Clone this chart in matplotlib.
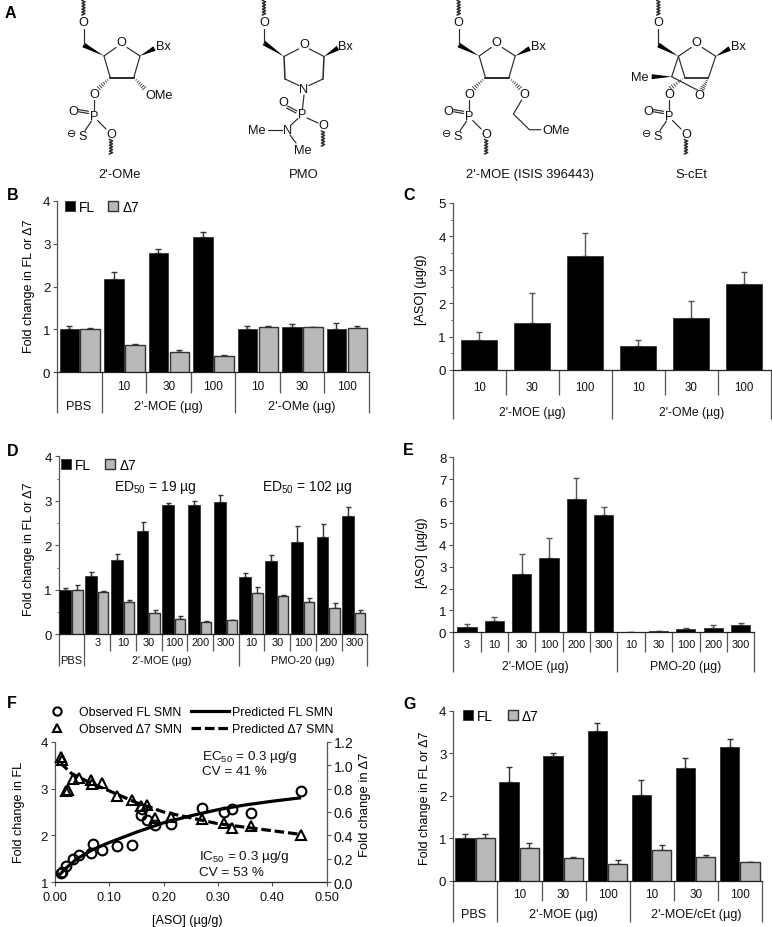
import numpy as np
import matplotlib
matplotlib.use("Agg")
import matplotlib.pyplot as plt
from matplotlib.patches import Polygon

plt.rcParams['font.family'] = ['Liberation Sans', 'DejaVu Sans']
plt.rcParams['mathtext.fontset'] = 'custom'
plt.rcParams['mathtext.rm'] = 'Liberation Sans'
plt.rcParams['mathtext.default'] = 'regular'

# ---------- data ----------
b_doses = ['10', '30', '100', '10', '30', '100']
b_fl = [1.0, 2.17, 2.78, 3.15, 1.02, 1.06, 1.01]
b_fl_top = [1.09, 2.33, 2.87, 3.26, 1.09, 1.12, 1.16]
b_d7 = [1.0, 0.63, 0.47, 0.38, 1.05, 1.05, 1.04]
b_d7_top = [1.03, 0.67, 0.51, 0.41, 1.08, 1.06, 1.09]

c_doses = ['10', '30', '100', '10', '30', '100']
c_val = [0.91, 1.42, 3.42, 0.71, 1.55, 2.57]
c_top = [1.13, 2.30, 4.10, 0.90, 2.06, 2.92]

d_doses = ['3', '10', '30', '100', '200', '300', '10', '30', '100', '200', '300']
d_fl = [1.0, 1.3, 1.67, 2.33, 2.9, 2.9, 2.98, 1.28, 1.64, 2.07, 2.19, 2.65]
d_fl_top = [1.04, 1.41, 1.81, 2.53, 2.95, 3.0, 3.12, 1.37, 1.78, 2.43, 2.47, 2.85]
d_d7 = [1.0, 0.96, 0.73, 0.48, 0.35, 0.28, 0.32, 0.92, 0.87, 0.72, 0.59, 0.48]
d_d7_top = [1.11, 0.98, 0.78, 0.54, 0.41, 0.30, 0.33, 1.07, 0.89, 0.82, 0.70, 0.54]

e_doses = ['3', '10', '30', '100', '200', '300', '10', '30', '100', '200', '300']
e_val = [0.24, 0.53, 2.65, 3.38, 6.1, 5.37, 0.02, 0.05, 0.13, 0.21, 0.33]
e_top = [0.37, 0.68, 3.6, 4.32, 7.05, 5.72, 0.03, 0.07, 0.18, 0.33, 0.42]

f_fl_x = [0.011, 0.013, 0.020, 0.034, 0.044, 0.066, 0.070, 0.087, 0.115, 0.142,
          0.158, 0.160, 0.169, 0.184, 0.213, 0.270, 0.311, 0.326, 0.360, 0.452]
f_fl_y = [1.20, 1.22, 1.34, 1.50, 1.59, 1.62, 1.82, 1.68, 1.77, 1.80,
          2.44, 2.56, 2.33, 2.23, 2.24, 2.58, 2.51, 2.57, 2.48, 2.95]
f_d7_x = [0.011, 0.012, 0.020, 0.024, 0.034, 0.044, 0.066, 0.069, 0.087, 0.115,
          0.142, 0.158, 0.169, 0.184, 0.213, 0.270, 0.311, 0.326, 0.360, 0.452]
f_d7_y = [1.066, 1.04, 0.78, 0.79, 0.88, 0.89, 0.87, 0.84, 0.85, 0.74,
          0.70, 0.65, 0.66, 0.55, 0.56, 0.54, 0.51, 0.46, 0.48, 0.40]
f_pf_x = [0.01, 0.02, 0.04, 0.07, 0.10, 0.15, 0.20, 0.25, 0.30, 0.35, 0.40, 0.45]
f_pf_y = [1.18, 1.30, 1.50, 1.70, 1.85, 2.07, 2.27, 2.42, 2.55, 2.65, 2.73, 2.80]
f_pd_x = [0.01, 0.03, 0.06, 0.10, 0.15, 0.20, 0.25, 0.30, 0.35, 0.40, 0.45]
f_pd_y = [1.02, 0.93, 0.86, 0.78, 0.68, 0.60, 0.55, 0.50, 0.47, 0.44, 0.41]

g_doses = ['10', '30', '100', '10', '30', '100']
g_fl = [1.0, 2.33, 2.93, 3.53, 2.03, 2.65, 3.15]
g_fl_top = [1.11, 2.68, 3.01, 3.72, 2.37, 2.89, 3.33]
g_d7 = [1.0, 0.78, 0.53, 0.40, 0.73, 0.57, 0.44]
g_d7_top = [1.11, 0.88, 0.57, 0.49, 0.84, 0.61, 0.45]

# ---------- layout ----------
W, H = 772, 928
fig = plt.figure(figsize=(W / 100, H / 100), dpi=100)
GREY = '#b9b9b9'
DARK = '#333333'
AX = '#555555'
FS = 9.1


def make_ax(l, r, t, b):
    a = fig.add_axes([l / W, 1 - b / H, (r - l) / W, (b - t) / H])
    a.patch.set_alpha(0)
    for s in ('top', 'right'):
        a.spines[s].set_visible(False)
    for s in ('left', 'bottom'):
        a.spines[s].set_color(AX)
        a.spines[s].set_linewidth(0.9)
    a.spines['bottom'].set_color('#222222')
    a.tick_params(axis='y', length=3, width=0.8, color=AX, labelsize=9.5, pad=2, labelcolor='#111111')
    a.tick_params(axis='y', which='minor', length=1.8, width=0.7, color=AX)
    return a


def hierarchy(a, n, start, shorts, longs, short_px, long_px, doses, groups, dose_y, group_y, fs=8.5, gfs=9.1):
    h = a.get_window_extent().height
    tr = a.get_xaxis_transform()
    for x in shorts:
        a.plot([x, x], [0, -short_px / h], transform=tr, clip_on=False, color=AX, lw=0.9, solid_capstyle='butt')
    for x in longs:
        a.plot([x, x], [0, -long_px / h], transform=tr, clip_on=False, color=AX, lw=0.9, solid_capstyle='butt')
    a.set_xlim(0, n)
    a.set_xticks(np.arange(start, n) + 0.5, doses)
    a.tick_params(axis='x', length=0, labelsize=fs, pad=(dose_y - 5.5) * 0.72, labelcolor='#111111')
    for lab, xc in groups:
        a.text(xc, -group_y / h, lab, transform=tr, ha='center', va='center', fontsize=gfs, color='#111111')


def grouped(a, x0, fl, fl_top, d7, d7_top, c1, c2, w1, w2, lw=1.0, cap=1.9):
    xs = np.arange(len(fl))
    r1 = a.bar(xs + c1, fl, w1, color='black', edgecolor=DARK, lw=0.6, zorder=3, label='FL')
    r2 = a.bar(xs + c2, d7, w2, color=GREY, edgecolor=DARK, lw=1.0, zorder=3, label='Δ7')
    a.errorbar(xs + c1, fl, yerr=[np.zeros(len(fl)), np.array(fl_top) - fl], fmt='none', ecolor=DARK,
               elinewidth=lw, capsize=cap, capthick=lw, zorder=2)
    a.errorbar(xs + c2, d7, yerr=[np.zeros(len(d7)), np.array(d7_top) - d7], fmt='none', ecolor=DARK,
               elinewidth=lw, capsize=cap, capthick=lw, zorder=2)
    return r1, r2


def bar_legend(a, x, y, fs, colsp):
    bb = a.get_window_extent()
    a.legend(loc='center left', bbox_to_anchor=((x - bb.x0) / bb.width, ((H - y) - bb.y0) / bb.height),
             ncol=2, frameon=False, fontsize=fs, handlelength=0.75, handleheight=0.75, handletextpad=0.3,
             columnspacing=colsp, borderpad=0, borderaxespad=0)


def single(a, vals, tops, w, cap=1.9):
    xs = np.arange(len(vals)) + 0.5
    a.bar(xs, vals, w, color='black', edgecolor=DARK, lw=0.6, zorder=3)
    a.errorbar(xs, vals, yerr=[np.zeros(len(vals)), np.array(tops) - vals], fmt='none', ecolor='#555555',
               elinewidth=1.0, capsize=cap, capthick=1.0, zorder=2)


# ---------- B ----------
ab = make_ax(57.3, 369, 201.7, 373.3)
grouped(ab, 0, b_fl, b_fl_top, b_d7, b_d7_top, 0.27, 0.74, 0.44, 0.44)
ab.set_ylim(0, 4)
ab.set_yticks(range(5))
hierarchy(ab, 7, 1, [2, 3, 5, 6], [0, 1, 4, 7], 21, 41, b_doses,
          [('PBS', 0.47), ("2'-MOE (µg)", 2.5), ("2'-OMe (µg)", 5.5)], 13, 34)
ab.set_ylabel('Fold change in FL or Δ7', fontsize=FS)
ab.yaxis.set_label_coords((35 - 57.3) / 311.7, (373.3 - 286) / 171.6)
bar_legend(ab, 65, 207.7, 9.8, 0.95)

# ---------- C ----------
ac = make_ax(452.7, 770.7, 204, 371)
single(ac, c_val, c_top, 0.69)
ac.set_ylim(0, 5)
ac.set_yticks(range(6))
ac.set_yticks(np.arange(0.5, 5, 1), minor=True)
hierarchy(ac, 6, 0, [1, 2, 4, 5], [0, 3, 6], 24.7, 49, c_doses,
          [("2'-MOE (µg)", 1.5), ("2'-OMe (µg)", 4.5)], 16.5, 42, fs=8.3, gfs=8.8)
ac.set_ylabel('[ASO] (µg/g)', fontsize=FS)
ac.yaxis.set_label_coords((427 - 452.7) / 318, (371 - 290) / 167)

# ---------- D ----------
ad = make_ax(58.7, 367.3, 457.3, 635.3)
grouped(ad, 0, d_fl, d_fl_top, d_d7, d_d7_top, 0.26, 0.73, 0.46, 0.40, cap=1.8)
ad.set_ylim(0, 4)
ad.set_yticks(range(5))
ad.set_yticks(np.arange(0.5, 4, 1), minor=True)
hierarchy(ad, 12, 1, [2, 3, 4, 5, 6, 8, 9, 10, 11], [0, 1, 7, 12], 16.4, 31.4, d_doses,
          [('PBS', 0.5), ("2'-MOE (µg)", 4.0), ("PMO-20 (µg)", 9.5)], 8.7, 25.4, fs=7.9, gfs=7.9)
ad.set_ylabel('Fold change in FL or Δ7', fontsize=FS)
ad.yaxis.set_label_coords((35 - 58.7) / 308.6, (635.3 - 549) / 178)
bar_legend(ad, 61, 465.7, 9.8, 1.0)

# ---------- E ----------
ae = make_ax(453.3, 754.3, 458.3, 633.3)
single(ae, e_val, e_top, 0.70, cap=1.9)
ae.set_ylim(0, 8)
ae.set_yticks(range(9))
hierarchy(ae, 11, 0, [1, 2, 3, 4, 5, 7, 8, 9, 10], [0, 6, 11], 19.7, 39.7, e_doses,
          [("2'-MOE (µg)", 3.0), ("PMO-20 (µg)", 8.5)], 12.7, 33.4, fs=7.9, gfs=8.8)
ae.set_ylabel('[ASO] (µg/g)', fontsize=FS)
ae.yaxis.set_label_coords((427.5 - 453.3) / 301, (633.3 - 553) / 175)

# ---------- G ----------
ag = make_ax(453.3, 762, 712, 881.7)
grouped(ag, 0, g_fl, g_fl_top, g_d7, g_d7_top, 0.265, 0.725, 0.44, 0.44)
ag.set_ylim(0, 4)
ag.set_yticks(range(5))
hierarchy(ag, 7, 1, [2, 3, 5, 6], [0, 1, 4, 7], 20, 41, g_doses,
          [('PBS', 0.47), ("2'-MOE (µg)", 2.5), ("2'-MOE/cEt (µg)", 5.5)], 13.3, 33.3)
ag.set_ylabel('Fold change in FL or Δ7', fontsize=FS)
ag.yaxis.set_label_coords((431 - 453.3) / 308.7, (881.7 - 798) / 169.7)
bar_legend(ag, 463, 717, 9.8, 1.05)

# ---------- F ----------
af = make_ax(55, 326.7, 742.7, 883.3)
af.set_xlim(0, 0.5)
af.set_ylim(1, 4)
af.set_yticks([1, 2, 3, 4])
af.set_xticks(np.arange(0, 0.51, 0.1), [f'{v:.2f}' for v in np.arange(0, 0.51, 0.1)])
af.tick_params(axis='x', length=3, width=0.8, color=AX, labelsize=9.2, pad=3, labelcolor='#111111')
af.set_xlabel('[ASO] (µg/g)', fontsize=FS)
af.xaxis.set_label_coords((187 - 55) / 271.7, -(915.5 - 883.3) / 140.6)
af.set_ylabel('Fold change in FL', fontsize=FS)
af.yaxis.set_label_coords((25 - 55) / 271.7, (883.3 - 812) / 140.6)
afr = af.twinx()
afr.patch.set_alpha(0)
afr.set_ylim(0, 1.2)
afr.set_yticks(np.arange(0, 1.21, 0.2), [f'{v:.1f}' for v in np.arange(0, 1.21, 0.2)])
afr.tick_params(axis='y', length=3, width=0.8, color=AX, labelsize=10.2, pad=2, labelcolor='#111111')
for s in ('top', 'left', 'bottom'):
    afr.spines[s].set_visible(False)
afr.spines['right'].set_color(AX)
afr.spines['right'].set_linewidth(0.9)
afr.set_ylabel('Fold change in Δ7', fontsize=9.4)
afr.yaxis.set_label_coords((359 - 55) / 271.7, (883.3 - 805) / 140.6)

h1, = af.plot(f_fl_x, f_fl_y, 'o', mfc='none', mec='black', mew=1.5, ms=7, ls='none', clip_on=False, zorder=4)
h3, = af.plot(f_pf_x, f_pf_y, '-', color='black', lw=2.3, zorder=3)
h2, = afr.plot(f_d7_x, f_d7_y, '^', mfc='none', mec='black', mew=1.5, ms=7, ls='none', clip_on=False, zorder=4)
h4, = afr.plot(f_pd_x, f_pd_y, '--', color='black', lw=2.3, dashes=(3.0, 1.2), zorder=3)
fb = af.get_window_extent()
afr.legend([h1, h2, h3, h4],
           ['Observed FL SMN', 'Observed Δ7 SMN', 'Predicted FL SMN', 'Predicted Δ7 SMN'],
           ncol=2, frameon=False, fontsize=8.9, loc='upper left', markerscale=0.85,
           bbox_to_anchor=((38.5 - fb.x0) / fb.width, ((H - 707.5) - fb.y0) / fb.height),
           handlelength=3.0, handletextpad=0.3, columnspacing=0.75, labelspacing=0.4,
           borderpad=0, borderaxespad=0)

# ---------- overlay: annotations and structures ----------
ov = fig.add_axes([0, 0, 1, 1], zorder=10)
ov.set_xlim(0, W)
ov.set_ylim(H, 0)
ov.axis('off')
ov.patch.set_alpha(0)


def T(x, y, s, fs=FS, ha='left', va='center', **k):
    ov.text(x, y, s, fontsize=fs, ha=ha, va=va, color='#111111', **k)


for lab, x, y in [('A', 5, 14), ('B', 7, 195), ('C', 403, 195), ('D', 7, 452),
                  ('E', 403, 451), ('F', 7, 704), ('G', 403, 705)]:
    ov.text(x, y, lab, fontsize=11.5, fontweight='bold', ha='left', va='center', color='black')

T(114, 488, 'ED$_{50}$ = 19 µg', 10)
T(262, 488, 'ED$_{50}$ = 102 µg', 10)
T(202, 757, 'EC$_{50}$ = 0.3 µg/g', 9.7)
T(202, 772, 'CV = 41 %', 9.7)
T(199, 857, 'IC$_{50}$ = 0.3 µg/g', 9.7)
T(199, 873, 'CV = 53 %', 9.7)

BC = '#2a2a2a'
BW = 0.85


def bond(*pts, lw=BW):
    ov.plot([p[0] for p in pts], [p[1] for p in pts], color=BC, lw=lw, solid_capstyle='round')


def wedge(a, b, w=5.0):
    a, b = np.array(a, float), np.array(b, float)
    d = b - a
    n = np.array([-d[1], d[0]]) / np.hypot(*d) * w / 2
    ov.add_patch(Polygon([a, b + n, b - n], closed=True, color='black', lw=0))


def hashed(a, b, n=7, w=5.0):
    a, b = np.array(a, float), np.array(b, float)
    d = b - a
    u = np.array([-d[1], d[0]]) / np.hypot(*d)
    for i in range(n):
        t = (i + 0.5) / n
        c = a + d * t
        hw = w / 2 * t
        bond(c - u * hw, c + u * hw, lw=0.6)


def wavy(x, y0, y1, n=5):
    ys = np.linspace(y0, y1, 2 * n + 1)
    xs = [x + (1.5 if i % 2 else -1.5) for i in range(2 * n + 1)]
    ov.plot(xs, ys, color=BC, lw=1.1, solid_joinstyle='round')


def atom(x, y, s, fs=9.2):
    ov.text(x, y, s, fontsize=fs, ha='center', va='center', color='#111111')


def upper(ox, cx):
    """5'-end wavy bond and O; ox is the ring O x, cx the CH2-O x, both in px."""
    wavy(cx, 1.5, 16)
    atom(cx, 23.5, 'O')
    bond((cx, 30), (cx, 46))


def phosphate(px):
    """Phosphorothioate below a 3'-O; px is the P x position."""
    atom(px, 95, 'O')
    bond((px, 101), (px, 111))
    atom(px, 116.5, 'P')
    bond((px - 5.5, 112.3), (px - 15.5, 110.6))
    bond((px - 5.5, 114.5), (px - 15.5, 112.8))
    atom(px - 21, 112, 'O')
    bond((px - 2.5, 122), (px - 9, 131.5))
    atom(px - 11.5, 137.5, 'S')
    atom(px - 22.5, 134, '⊖', fs=8)
    bond((px + 3.5, 121.5), (px + 12, 130))
    atom(px + 17, 134.5, 'O')
    wavy(px + 17, 140.5, 155)


def furanose(ox):
    c4 = (ox - 17.5, 57)
    c1 = (ox + 18.5, 57)
    c2 = (ox + 12.3, 78.5)
    c3 = (ox - 11.3, 78.5)
    bond(c4, (ox - 5.5, 48.5))
    bond((ox + 5.5, 48.5), c1)
    bond(c1, c2)
    bond(c2, c3, lw=1.4)
    bond(c3, c4)
    wedge(c4, (ox - 38, 46))
    atom(ox - 0.2, 43.5, 'O')
    wedge(c1, (ox + 33, 49.5))
    atom(ox + 42, 46.5, 'Bx')
    upper(ox, ox - 38)
    hashed(c3, (ox - 23.5, 90))
    phosphate(ox - 27.5)
    return c2


# structure 1: 2'-OMe
c2 = furanose(121.5)
hashed(c2, (145, 90))
atom(159, 96, 'OMe')

# structure 2: PMO
ox = 304
cl, cr = (ox - 20, 57.5), (ox + 20, 57.5)
bl, br = (ox - 19, 80), (ox + 19, 80)
atom(ox, 45, 'O')
atom(ox, 90, 'N')
bond(cl, (ox - 5.5, 50))
bond((ox + 5.5, 50), cr)
bond(cl, bl, lw=1.1)
bond(cr, br, lw=1.1)
bond(bl, (ox - 5, 86.5))
bond(br, (ox + 5, 86.5))
wedge(cl, (ox - 40, 44))
wedge(cr, (ox + 34, 49))
atom(ox + 41.5, 46.5, 'Bx')
upper(ox, ox - 40)
bond((ox, 96), (ox - 1.5, 109.5))
atom(ox - 1.5, 115, 'P')
atom(ox - 21, 103.5, 'O')
bond((ox - 16.5, 107), (ox - 7, 112))
bond((ox - 17.5, 109), (ox - 8, 114))
bond((ox + 3, 119), (ox + 14, 124))
atom(ox + 19, 126, 'O')
wavy(ox + 19, 132, 147)
bond((ox - 6, 119.5), (ox - 13, 126))
atom(ox - 16, 131, 'N')
atom(ox - 47, 131, 'Me')
bond((ox - 36, 131), (ox - 22, 131))
bond((ox - 14, 136), (ox - 8, 144))
atom(ox - 1, 151, 'Me')

# structure 3: 2'-MOE
ox = 496.7
c2 = furanose(ox)
hashed(c2, (ox + 24, 90))
atom(ox + 28, 95, 'O')
bond((ox + 25, 101), (ox + 16.7, 115), (ox + 32.7, 130.7), (ox + 44, 130.7))
atom(ox + 59.5, 131, 'OMe')

# structure 4: S-cEt
ox = 696.7
c4 = (ox - 18.3, 57.3)
c1 = (ox + 19, 57.3)
c2 = (ox + 11.7, 79)
c3 = (ox - 11.7, 79)
c6 = (ox - 25, 77.7)
bond(c4, (ox - 5.5, 48.5))
bond((ox + 5.5, 48.5), c1)
bond(c1, c2)
bond(c2, c3, lw=1.3)
bond(c4, c3)
bond(c4, c6)
bond(c6, (ox + 0.5, 91))
atom(ox, 43.5, 'O')
wedge(c4, (ox - 38.3, 46))
wedge(c1, (ox + 33, 49.5))
atom(ox + 42, 46.5, 'Bx')
upper(ox, ox - 38.3)
wedge(c6, (ox - 45, 77.7))
atom(ox - 56.5, 77.7, 'Me')
hashed(c2, (ox + 5, 91))
atom(ox + 2.7, 95.7, 'O')
hashed((c6[0] + 12, 79), (ox - 27, 90))
phosphate(ox - 27.7)

T(120, 175, "2'-OMe", 9.4, ha='center')
T(304, 175, 'PMO', 9.4, ha='center')
T(530, 175, "2'-MOE (ISIS 396443)", 9.4, ha='center')
T(691, 175, 'S-cEt', 9.4, ha='center')

fig.savefig('out.png', dpi=100)
